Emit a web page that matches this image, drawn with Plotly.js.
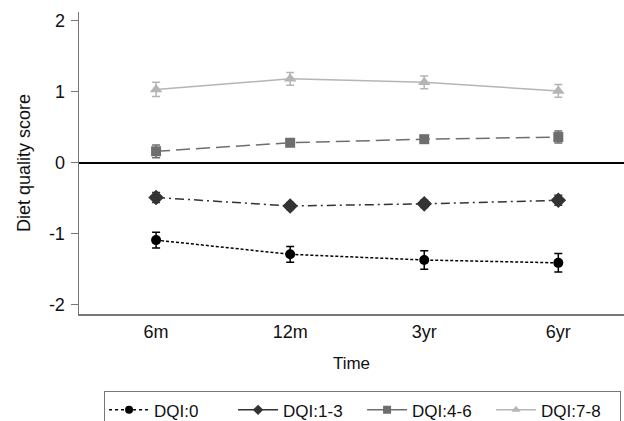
<!DOCTYPE html>
<html>
<head>
<meta charset="utf-8">
<script src="https://cdn.plot.ly/plotly-3.0.1.min.js"></script>
<style>html,body{margin:0;padding:0;background:#fff;}#chart{width:624px;height:421px;}</style>
</head>
<body>
<div id="chart"></div>
<script>
const timePoints = ["6m", "12m", "3yr", "6yr"];
const seriesNames = ["DQI:0", "DQI:1-3", "DQI:4-6", "DQI:7-8"];
const dqi0 = [-1.09, -1.29, -1.37, -1.41];
const dqi0Err = [0.11, 0.11, 0.13, 0.13];
const dqi13 = [-0.49, -0.61, -0.58, -0.53];
const dqi13Err = [0.07, 0.05, 0.05, 0.07];
const dqi46 = [0.16, 0.28, 0.33, 0.36];
const dqi46Err = [0.09, 0.04, 0.04, 0.085];
const dqi78 = [1.03, 1.18, 1.13, 1.01];
const dqi78Err = [0.1, 0.09, 0.09, 0.09];
const yTicks = [-2, -1, 0, 1, 2];

const values = [dqi0, dqi13, dqi46, dqi78];
const errors = [dqi0Err, dqi13Err, dqi46Err, dqi78Err];
const colors = ["#000000", "#333333", "#6e6e6e", "#b5b5b5"];
const symbols = ["circle", "diamond", "square", "triangle-up"];
const dashes = ["3px,2px", "9px,4px,2px,4px", "14px,6px", "solid"];
const sizes = [10, 12, 10, 11];
const legendDashes = ["3px,3px", "solid", "solid", "solid"];

const traces = [];
seriesNames.forEach((name, i) => {
  traces.push({
    type: "scatter",
    mode: "lines+markers",
    name: name,
    legendgroup: name,
    showlegend: false,
    x: timePoints,
    y: values[i],
    error_y: {type: "data", array: errors[i], visible: true, color: colors[i], thickness: 1.5, width: 4},
    line: {color: colors[i], width: 1.5, dash: dashes[i]},
    marker: {color: colors[i], symbol: symbols[i], size: sizes[i]}
  });
});
seriesNames.forEach((name, i) => {
  traces.push({
    type: "scatter",
    mode: "lines+markers",
    name: name,
    legendgroup: name,
    showlegend: true,
    x: [null],
    y: [null],
    line: {color: colors[i], width: 1.5, dash: legendDashes[i]},
    marker: {color: colors[i], symbol: symbols[i], size: 8}
  });
});

const layout = {
  width: 624, height: 421,
  margin: {l: 79, r: 0, t: 12, b: 107, autoexpand: false},
  paper_bgcolor: "#fff", plot_bgcolor: "#fff",
  font: {family: "Liberation Sans, Arial, sans-serif", size: 18, color: "#111"},
  showlegend: true,
  legend: {
    orientation: "h", x: 0.046, xanchor: "left", y: -0.256, yanchor: "top",
    bordercolor: "#777", borderwidth: 1, font: {size: 17, color: "#111"},
    tracegroupgap: 0, itemwidth: 40, entrywidth: 74, entrywidthmode: "pixels"
  },
  xaxis: {
    type: "category", range: [-0.575, 3.49],
    showline: true, linecolor: "#777", linewidth: 1.5,
    showgrid: false, zeroline: false, ticks: "", ticklabelstandoff: 1,
    tickfont: {size: 18, color: "#111"},
    title: {text: "Time", font: {size: 17, color: "#111"}, standoff: 16}
  },
  yaxis: {
    range: [-2.13, 2.12], tickvals: yTicks, ticktext: yTicks.map(String),
    showline: true, linecolor: "#777", linewidth: 1.5,
    showgrid: false, zeroline: true, zerolinecolor: "#000", zerolinewidth: 1.8,
    ticks: "outside", ticklen: 7, tickcolor: "#777", tickwidth: 1,
    ticklabelstandoff: 2,
    tickfont: {size: 18, color: "#111"},
    title: {text: "Diet quality score", font: {size: 18, color: "#111"}, standoff: 13}
  }
};

Plotly.newPlot("chart", traces, layout, {displayModeBar: false, staticPlot: true});
</script>
</body>
</html>
